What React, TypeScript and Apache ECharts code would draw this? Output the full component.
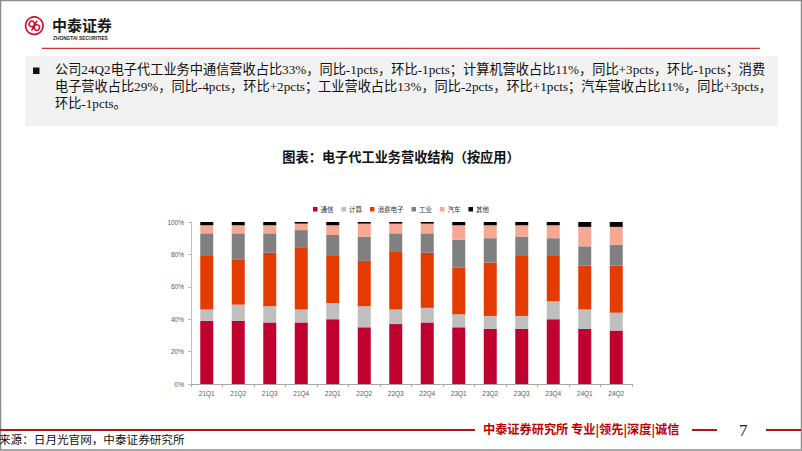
import React, { useEffect, useRef } from "react";
import * as echarts from "echarts";

const categories = ["21Q1", "21Q2", "21Q3", "21Q4", "22Q1", "22Q2", "22Q3", "22Q4", "23Q1", "23Q2", "23Q3", "23Q4", "24Q1", "24Q2"];
const telecom = [39, 39, 38, 38, 40, 35, 37, 38, 35, 34, 34, 40, 34, 33];
const computing = [7, 10, 10, 8, 10, 13, 9, 9, 8, 8, 8, 11, 12, 11];
const consumer = [33, 28, 33, 38, 29, 28, 36, 34, 29, 33, 37, 28, 27, 29];
const industrial = [14, 16, 12, 11, 13, 15, 11, 12, 17, 15, 12, 11, 12, 13];
const auto = [5, 5, 5, 4, 6, 8, 6, 6, 9, 8, 7, 8, 12, 11];
const other = [2, 2, 2, 1, 2, 1, 1, 1, 2, 2, 2, 2, 3, 3];

const seriesNames = ["通信", "计算", "消费电子", "工业", "汽车", "其他"];
const seriesColors = ["#C0002F", "#BFBFBF", "#E43C00", "#808080", "#F7A892", "#000000"];
const yTicks = [0, 20, 40, 60, 80, 100];

const textLines = [
  "公司24Q2电子代工业务中通信营收占比33%，同比-1pcts，环比-1pcts；计算机营收占比11%，同比+3pcts，环比-1pcts；消费",
  "电子营收占比29%，同比-4pcts，环比+2pcts；工业营收占比13%，同比-2pcts，环比+1pcts；汽车营收占比11%，同比+3pcts，",
  "环比-1pcts。",
];

const SERIF = '"Liberation Serif", "Noto Sans CJK SC", serif';
const SANS = '"Liberation Sans", Arial, "Noto Sans CJK SC", sans-serif';
const CJK = '"Noto Sans CJK SC", sans-serif';

let registered = false;
function registerLogo() {
  if (registered) return;
  registered = true;
  const d =
    "M0,-6 L0,6 M0,0 C-1.5,-4.5 -6,-4.5 -6,-0.5 C-6,3.5 -1.5,3.5 0,0 C1.5,-3.5 6,-3.5 6,0.5 C6,4.5 1.5,4.5 0,0";
  echarts.graphic.registerShape("logo", echarts.graphic.extendPath(d, {}));
}

export default function App() {
  const ref = useRef<HTMLDivElement>(null);
  useEffect(() => {
    if (!ref.current) return;
    registerLogo();
    const chart = echarts.init(ref.current, undefined, { renderer: "svg" });
    const dataSets = [telecom, computing, consumer, industrial, auto, other];
    const series = seriesNames.map((name, i) => ({
      name,
      type: "bar",
      stack: "total",
      barWidth: 13,
      data: dataSets[i],
      itemStyle: { color: seriesColors[i] },
    }));
    const textEls = textLines.map((t, i) => ({
      type: "text",
      left: 55,
      top: 63 + i * 16.8,
      style: {
        text: t,
        font: `13.2px ${SERIF}`,
        fill: "#111",
      },
    }));
    chart.setOption({
      animation: false,
      backgroundColor: "#fff",
      grid: { left: 191, right: 170, top: 222, bottom: 67 },
      legend: {
        top: 201,
        left: "center",
        itemWidth: 4.5,
        itemHeight: 4.5,
        itemGap: 8,
        icon: "rect",
        textStyle: { fontSize: 6.5, color: "#333", fontFamily: CJK, padding: [0, 0, 0, -2] },
        data: seriesNames,
      },
      xAxis: {
        type: "category",
        data: categories,
        boundaryGap: true,
        axisLine: { lineStyle: { color: "#A6A6A6", width: 1 } },
        axisTick: { show: true, alignWithLabel: false, length: 3, lineStyle: { color: "#A6A6A6" } },
        axisLabel: { fontSize: 6.5, color: "#595959", margin: 6, fontFamily: SANS },
      },
      yAxis: {
        type: "value",
        min: 0,
        max: 100,
        interval: 20,
        splitLine: { show: false },
        axisLine: { show: true, lineStyle: { color: "#BFBFBF", width: 1 } },
        axisTick: { show: true, length: 3, lineStyle: { color: "#BFBFBF" } },
        axisLabel: {
          fontSize: 6.5,
          color: "#595959",
          margin: 7,
          fontFamily: SANS,
          formatter: (v: number) => (yTicks.includes(v) ? `${v}%` : ""),
        },
      },
      series,
      graphic: [
        {
          type: "rect",
          shape: { x: 0.5, y: 0.5, width: 801, height: 449.5 },
          style: { fill: "none", stroke: "#8c8c8c", lineWidth: 1.5 },
          silent: true,
        },
        {
          type: "ring",
          shape: { cx: 34.3, cy: 25.7, r: 9.6, r0: 7.9 },
          style: { fill: "#C8102E" },
        },
        {
          type: "logo",
          x: 34.3,
          y: 25.7,
          rotation: -0.5,
          scaleX: 0.95,
          scaleY: 0.95,
          style: { fill: "none", stroke: "#C8102E", lineWidth: 1.6 },
        },
        {
          type: "text",
          x: 52,
          y: 24.5,
          style: {
            text: "中泰证券",
            font: `bold 15px ${CJK}`,
            fill: "#1a1a1a",
            verticalAlign: "middle",
            align: "left",
          },
        },
        {
          type: "text",
          x: 53,
          y: 38.6,
          style: {
            text: "ZHONGTAI SECURITIES",
            font: `bold 4.8px ${SANS}`,
            fill: "#1a1a1a",
            verticalAlign: "middle",
            align: "left",
          },
        },
        {
          type: "line",
          shape: { x1: 42, y1: 48.3, x2: 760, y2: 48.3 },
          style: { stroke: "#C00000", lineWidth: 1 },
        },
        {
          type: "rect",
          shape: { x: 25, y: 56, width: 753, height: 70 },
          style: { fill: "#F2F2F2" },
        },
        {
          type: "rect",
          shape: { x: 33, y: 67.5, width: 6.5, height: 6.5 },
          style: { fill: "#111" },
        },
        ...textEls,
        {
          type: "text",
          left: "center",
          top: 150,
          style: { text: "图表：电子代工业务营收结构（按应用）", font: `bold 13.2px ${CJK}`, fill: "#111" },
        },
        {
          type: "line",
          shape: { x1: 0, y1: 430, x2: 475, y2: 430 },
          style: { stroke: "#B5121B", lineWidth: 2 },
        },
        {
          type: "text",
          left: 483,
          top: 423,
          style: { text: "中泰证券研究所 专业|领先|深度|诚信", font: `bold 12.2px ${CJK}`, fill: "#C00000" },
        },
        {
          type: "line",
          shape: { x1: 692, y1: 430, x2: 717, y2: 430 },
          style: { stroke: "#B5121B", lineWidth: 2 },
        },
        {
          type: "text",
          left: 739,
          top: 422,
          style: { text: "7", font: `17px ${SERIF}`, fill: "#222" },
        },
        {
          type: "line",
          shape: { x1: 766, y1: 430, x2: 801, y2: 430 },
          style: { stroke: "#B5121B", lineWidth: 2 },
        },
        {
          type: "text",
          left: -1,
          top: 433,
          style: { text: "来源：日月光官网，中泰证券研究所", font: `11.6px ${CJK}`, fill: "#111" },
        },
      ],
    });
    return () => chart.dispose();
  }, []);
  return (
    <div
      ref={ref}
      style={{ position: "fixed", left: 0, top: 0, width: 802, height: 451, background: "#fff" }}
    />
  );
}
